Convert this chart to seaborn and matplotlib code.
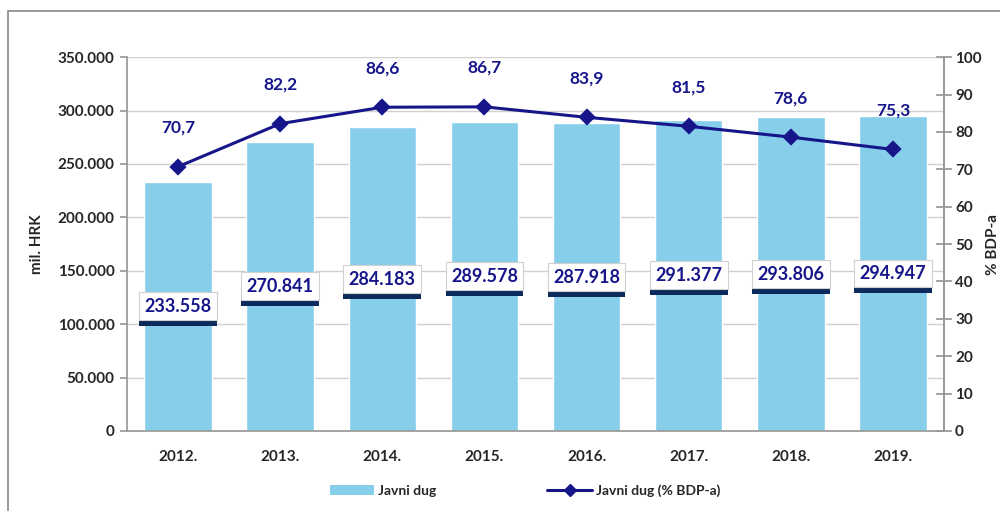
import numpy as np
import pandas as pd
import seaborn as sns
import matplotlib.pyplot as plt
import matplotlib.patheffects as pe
from matplotlib.patches import Rectangle, Patch
from matplotlib.lines import Line2D
from matplotlib.ticker import FuncFormatter, MultipleLocator

years = ["2012.", "2013.", "2014.", "2015.", "2016.", "2017.", "2018.", "2019."]
debt = [233558, 270841, 284183, 289578, 287918, 291377, 293806, 294947]
debt_labels = ["233.558", "270.841", "284.183", "289.578", "287.918", "291.377", "293.806", "294.947"]
pct = [70.7, 82.2, 86.6, 86.7, 83.9, 81.5, 78.6, 75.3]

sns.set_theme(style="white")
plt.rcParams["font.family"] = ["Lato", "DejaVu Sans"]
plt.rcParams["font.weight"] = "bold"

bar_color = "#87CEEB"
navy = "#16168a"

df = pd.DataFrame({"Godina": years, "Dug": debt, "Pct": pct})

fig = plt.figure(figsize=(10, 5.11), dpi=100)
ax = fig.add_axes([0.127, 0.1566, 0.817, 0.7316])

sns.barplot(data=df, x="Godina", y="Dug", color=bar_color, width=0.66,
            saturation=1, ax=ax, zorder=2)
ax.set_ylim(0, 350000)
ax.yaxis.set_major_locator(MultipleLocator(50000))
ax.yaxis.set_major_formatter(FuncFormatter(lambda v, p: f"{int(v):,}".replace(",", ".")))
ax.grid(axis="y", color="#d0d0d0", lw=1, zorder=0)
ax.set_axisbelow(True)
ax.set_xlabel("")
ax.set_ylabel("mil. HRK", fontsize=11, fontweight="bold", labelpad=10)
ax.tick_params(axis="y", left=True, length=5, color="#999999", labelsize=11, pad=4)
ax.tick_params(axis="x", bottom=False, labelsize=11, pad=8)
for s in ["left", "bottom", "right"]:
    ax.spines[s].set_color("#999999")
ax.spines["top"].set_visible(False)

# value boxes at half bar height, with a dark shadow underneath
for i, (v, lab) in enumerate(zip(debt, debt_labels)):
    t = ax.annotate(lab, (i, v / 2), ha="center", va="center", fontsize=13,
                    fontweight="bold", color=navy, zorder=5,
                    bbox=dict(boxstyle="square,pad=0.3", fc="white", ec="#d0d0d0", lw=0.8))
    t.get_bbox_patch().set_path_effects([
        pe.SimplePatchShadow(offset=(0, -4), shadow_rgbFace="#0d2a5c", alpha=1),
        pe.Normal()])

ax2 = ax.twinx()
sns.pointplot(data=df, x="Godina", y="Pct", color=navy, markers="D",
              markersize=7, linewidth=2.2, ax=ax2)
ax2.set_ylim(0, 100)
ax2.yaxis.set_major_locator(MultipleLocator(10))
ax2.set_ylabel("% BDP-a", fontsize=11, fontweight="bold", labelpad=3)
ax2.tick_params(axis="y", right=True, direction="inout", length=12,
                color="#999999", labelsize=11, pad=2)
for s in ["left", "bottom", "right", "top"]:
    ax2.spines[s].set_visible(False)
ax2.spines["right"].set_visible(True)
ax2.spines["right"].set_color("#999999")

for i, p in enumerate(pct):
    ax2.annotate(f"{p:.1f}".replace(".", ","), (i, p), xytext=(0, 28),
                 textcoords="offset points", ha="center", va="center",
                 fontsize=12.5, fontweight="bold", color=navy)

handles = [Patch(facecolor=bar_color, edgecolor="none"),
           Line2D([0], [0], color=navy, lw=2.2, marker="D", markersize=6)]
fig.legend(handles, ["Javni dug", "Javni dug (% BDP-a)"], loc="center",
           bbox_to_anchor=(0.525, 0.04), ncol=2, frameon=False, fontsize=10,
           handlelength=3.2, handletextpad=0.3, columnspacing=8)

fig.patches.append(Rectangle((0.008, -0.2), 1.2, 0.2 + 0.978, transform=fig.transFigure,
                             fill=False, ec="#888888", lw=1.2))

plt.savefig("out.png", dpi=100)
